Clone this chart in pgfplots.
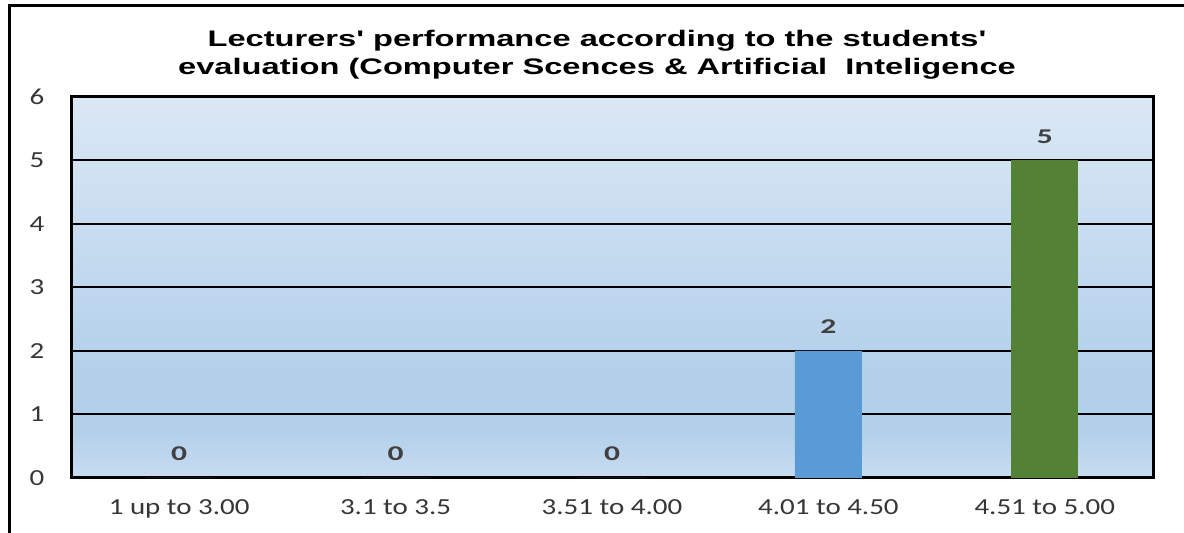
\documentclass[border=0pt]{standalone}
\usepackage{fontspec}
\usepackage{pgfplots}
\pgfplotsset{compat=1.18}
\newfontfamily\ttlfont[FakeStretch=1.45,Ligatures=TeXOff]{Liberation Sans}
\newfontfamily\tickfont[FakeStretch=1.26]{Carlito}
\newfontfamily\valfont[FakeStretch=1.5]{Carlito}
\definecolor{bgtop}{HTML}{DBE8F5}
\definecolor{bgmid}{HTML}{B3D0EB}
\definecolor{bgbot}{HTML}{C8DCF0}
\definecolor{barblue}{HTML}{5B9BD5}
\definecolor{bargreen}{HTML}{538135}
\definecolor{txtgray}{HTML}{363636}
\definecolor{valgray}{HTML}{404040}
\pgfdeclareverticalshading{bgshade}{100bp}{color(0bp)=(bgbot); color(25bp)=(bgbot); color(31bp)=(bgmid); color(39bp)=(bgmid); color(75bp)=(bgtop); color(100bp)=(bgtop)}
\begin{document}
\begin{tikzpicture}
\useasboundingbox (0pt,0pt) rectangle (1184pt,533pt);
\draw[line width=3pt] (9pt,0pt) -- (9pt,527pt) -- (1186pt,527pt);
\node[anchor=base, font=\ttlfont\bfseries\fontsize{22.5}{26}\selectfont] at (597pt,486pt) {Lecturers' performance according to the students'};
\node[anchor=base, font=\ttlfont\bfseries\fontsize{22.5}{26}\selectfont] at (597pt,458pt) {evaluation (Computer Scences \& Artificial\ \ Inteligence};
\begin{axis}[
  at={(71pt,55pt)}, anchor=south west,
  scale only axis, width=1082pt, height=381pt,
  xmin=-0.5, xmax=4.5, ymin=0, ymax=6,
  xtick={0,1,2,3,4},
  xticklabels={1 up to 3.00, 3.1 to 3.5, 3.51 to 4.00, 4.01 to 4.50, 4.51 to 5.00},
  ytick={0,1,2,3,4,5,6},
  major tick length=0pt,
  ymajorgrids, major grid style={black, line width=2pt},
  axis line style={black, line width=3pt},
  axis background/.style={shading=bgshade},
  xticklabel style={anchor=base, yshift=-37pt, font=\tickfont\fontsize{23}{27}\selectfont, text=txtgray},
  yticklabel style={anchor=center, xshift=-34pt, font=\tickfont\fontsize{23}{27}\selectfont, text=txtgray},
  /pgf/number format/assume math mode=true,
  ybar, bar width=67pt,
  nodes near coords,
  nodes near coords style={anchor=base, yshift=17pt, font=\valfont\bfseries\fontsize{21}{24}\selectfont, text=valgray},
]
\addplot[ybar, bar shift=0pt, fill=barblue, draw=none] coordinates {(0,0) (1,0) (2,0) (3,2)};
\addplot[ybar, bar shift=0pt, fill=bargreen, draw=none] coordinates {(4,5)};
\end{axis}
\end{tikzpicture}
\end{document}
